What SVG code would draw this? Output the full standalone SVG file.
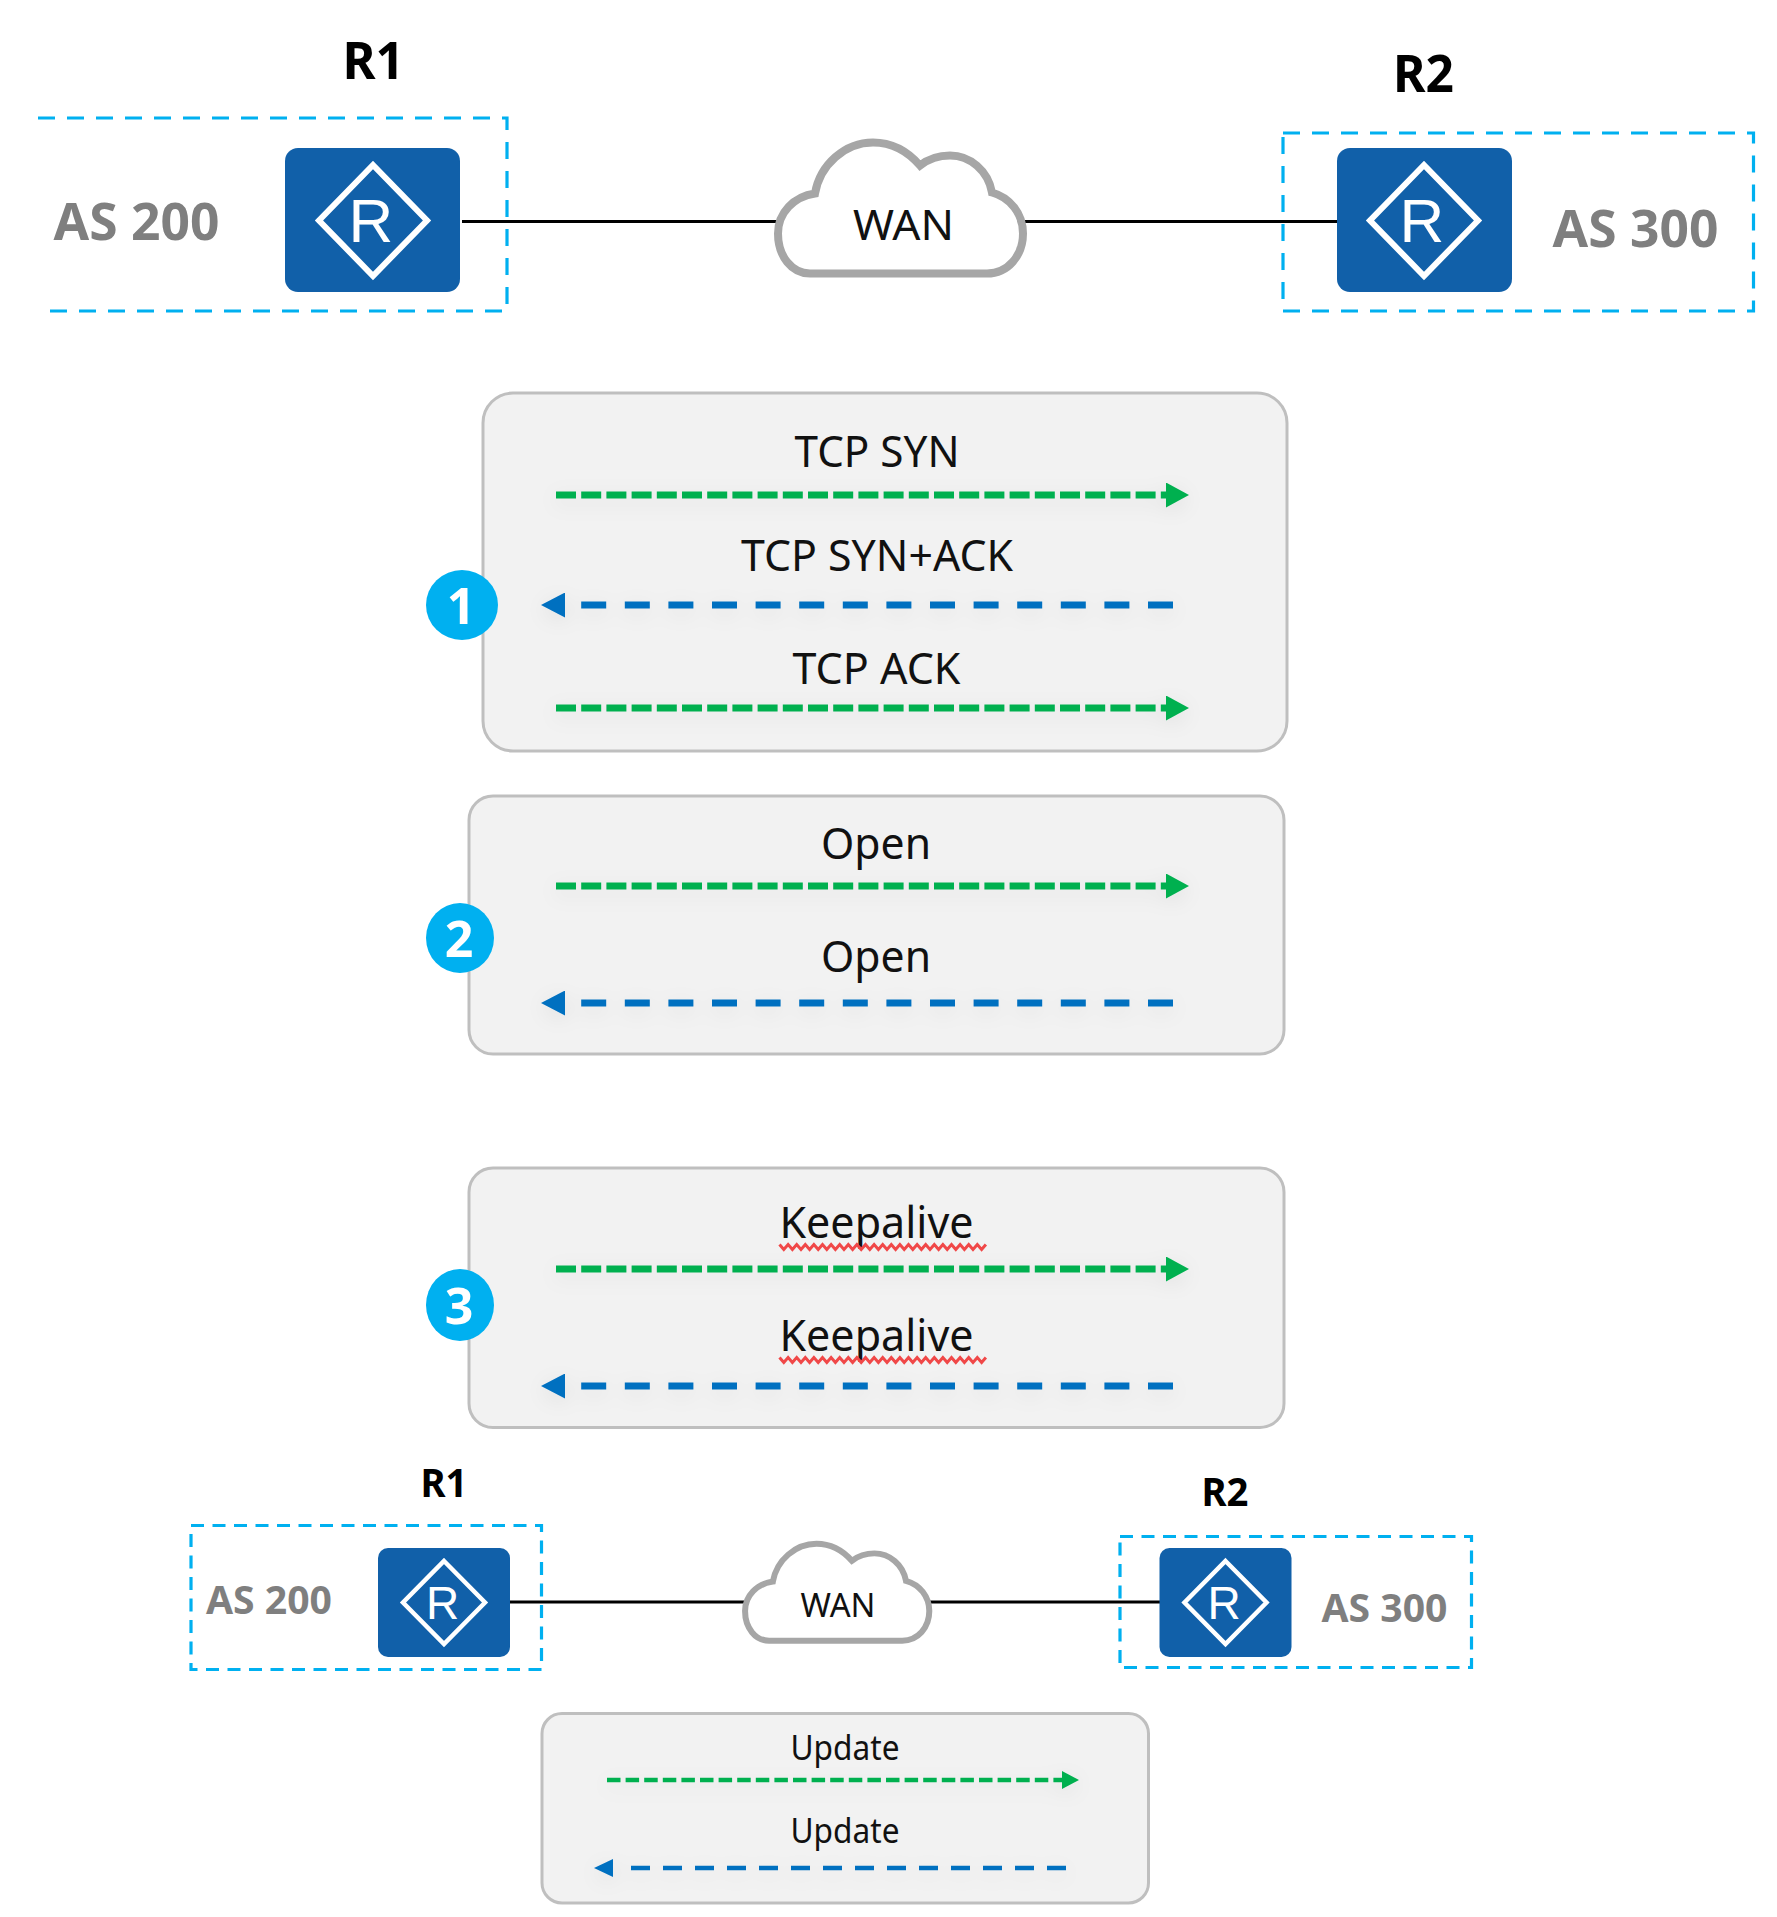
<svg xmlns="http://www.w3.org/2000/svg" width="1777" height="1917" viewBox="0 0 1777 1917">
<style>
text{font-family:"Noto Sans","Open Sans","Liberation Sans",sans-serif;text-anchor:middle;fill:#111}
.b{font-weight:700;fill:#000}
.as{font-weight:700;fill:#7f7f7f}
.num{font-weight:700;fill:#fff}
.panel{fill:#f2f2f2;stroke:#bfbfbf;stroke-width:3}
.zone{fill:none;stroke:#00b0f0;stroke-width:3.2;stroke-dasharray:17 12}
.link{stroke:#000;stroke-width:3;fill:none}
.gr{stroke:#00b050;stroke-width:7;stroke-dasharray:20 5.2;fill:none;marker-end:url(#gh)}
.bl{stroke:#0070c0;stroke-width:7;stroke-dasharray:25 18.6;fill:none;marker-end:url(#bh)}
.gr2{stroke:#00b050;stroke-width:4.5;stroke-dasharray:13.5 5.1;fill:none;marker-end:url(#gh2)}
.bl2{stroke:#0070c0;stroke-width:4.5;stroke-dasharray:19 13;fill:none;marker-end:url(#bh2)}
.wave{fill:none;stroke:#f04848;stroke-width:3}
.rbody{fill:#1160a9}
.rd{fill:none;stroke:#fff;stroke-width:6}
.cl{fill:#fff;stroke:#a6a6a6;stroke-width:8}
.rt{font-family:"Liberation Sans",Arial,sans-serif;fill:#fff}
.badge{fill:#00b0f0}
</style>
<defs>
<marker id="gh" markerUnits="userSpaceOnUse" markerWidth="23" markerHeight="25" refX="0" refY="12.5" orient="auto"><path d="M0 0L23 12.5L0 25Z" fill="#00b050"/></marker>
<marker id="bh" markerUnits="userSpaceOnUse" markerWidth="40" markerHeight="25" refX="0" refY="12.5" orient="auto"><path d="M16 0L40 12.5L16 25Z" fill="#0070c0"/></marker>
<marker id="gh2" markerUnits="userSpaceOnUse" markerWidth="17" markerHeight="18" refX="0" refY="9" orient="auto"><path d="M0 0L17 9L0 18Z" fill="#00b050"/></marker>
<marker id="bh2" markerUnits="userSpaceOnUse" markerWidth="32" markerHeight="18" refX="0" refY="9" orient="auto"><path d="M13 0L32 9L13 18Z" fill="#0070c0"/></marker>
<path id="cloud" class="cl" d="M60 153H237C258 153 273 135 273 113C273 93 260 77 242 72C238 50 220 35 200 35C190 35 179 38 170 45C157 30 142 22 123 22C95 22 70 44 65 73C44 76 28 92 28 113C28 136 42 153 60 153Z"/>
<path id="wave" class="wave" d="M0 0l4.300 5l4.300-5l4.300 5l4.300-5l4.300 5l4.300-5l4.300 5l4.300-5l4.300 5l4.300-5l4.300 5l4.300-5l4.300 5l4.300-5l4.300 5l4.300-5l4.300 5l4.300-5l4.300 5l4.300-5l4.300 5l4.300-5l4.300 5l4.300-5l4.300 5l4.300-5l4.300 5l4.300-5l4.300 5l4.300-5l4.300 5l4.300-5l4.300 5l4.300-5l4.300 5l4.300-5l4.300 5l4.300-5l4.300 5l4.300-5l4.300 5l4.300-5l4.300 5l4.300-5l4.300 5l4.300-5l4.300 5l4.300-5"/>
<filter id="soft" x="-10%" y="-200%" width="120%" height="500%"><feDropShadow dx="0" dy="5" stdDeviation="10" flood-color="#000" flood-opacity="0.08"/></filter>
</defs>

<g id="panels">
<g id="panel-1"><rect class="panel" x="483" y="393" width="804" height="358" rx="30"/></g>
<g id="panel-2"><rect class="panel" x="469" y="796" width="815" height="258" rx="24"/></g>
<g id="panel-3"><rect class="panel" x="469" y="1168" width="815" height="259.500" rx="24"/></g>
<g id="panel-4"><rect class="panel" x="542" y="1713.500" width="606.500" height="189.500" rx="20"/></g>
</g>

<g id="connectors">
<line class="link" x1="462" y1="221.500" x2="778" y2="221.500"/>
<line class="link" x1="1023" y1="221.500" x2="1337" y2="221.500"/>
<line class="link" x1="510" y1="1602" x2="745" y2="1602"/>
<line class="link" x1="930" y1="1602" x2="1163" y2="1602"/>
<g filter="url(#soft)">
<path class="gr" d="M556 495H1166"/>
<path class="bl" d="M1173 605H581"/>
<path class="gr" d="M556 708H1166"/>
<path class="gr" d="M556 886H1166"/>
<path class="bl" d="M1173 1003H581"/>
<path class="gr" d="M556 1269H1166"/>
<path class="bl" d="M1173 1386H581"/>
<path class="gr2" d="M607 1780H1062"/>
<path class="bl2" d="M1066 1868H626"/>
</g>
</g>

<g id="as200-zone"><path class="zone" d="M38 118H507V311H49"/><text class="as" x="136.500" y="240" font-size="52" textLength="166" lengthAdjust="spacingAndGlyphs">AS 200</text></g>
<g id="as300-zone"><path class="zone" d="M1283 133H1753.500V311H1283Z"/><text class="as" x="1635.500" y="247" font-size="52" textLength="166" lengthAdjust="spacingAndGlyphs">AS 300</text></g>
<g id="as200-zone-b"><rect class="zone" x="191" y="1525.500" width="350.500" height="144" style="stroke-dasharray:13 8.500"/><text class="as" x="269" y="1614" font-size="40" textLength="126" lengthAdjust="spacingAndGlyphs">AS 200</text></g>
<g id="as300-zone-b"><rect class="zone" x="1120" y="1536.500" width="351.500" height="131" style="stroke-dasharray:13 8.500"/><text class="as" x="1384.500" y="1622" font-size="40" textLength="126" lengthAdjust="spacingAndGlyphs">AS 300</text></g>

<g id="r1">
<text class="b" x="373.500" y="79" font-size="52" textLength="62" lengthAdjust="spacingAndGlyphs">R1</text>
<rect class="rbody" x="285" y="148" width="175" height="144" rx="13"/>
<path class="rd" d="M373 165L427 220.500L373 276L319 220.500Z"/>
<text class="rt" x="371" y="242" font-size="62">R</text>
</g>
<g id="r2">
<text class="b" x="1423.500" y="92" font-size="52" textLength="61" lengthAdjust="spacingAndGlyphs">R2</text>
<rect class="rbody" x="1337" y="148" width="175" height="144" rx="13"/>
<path class="rd" d="M1424 165L1478 220.500L1424 276L1370 220.500Z"/>
<text class="rt" x="1422" y="242" font-size="62">R</text>
</g>
<g id="wan"><use href="#cloud" transform="translate(750 120.500)"/><text x="903.500" y="240" font-size="42" textLength="101" lengthAdjust="spacingAndGlyphs">WAN</text></g>

<g id="step-1"><ellipse class="badge" cx="462" cy="605" rx="36" ry="35"/><text class="num" x="461" y="624" font-size="50">1</text></g>
<g id="step-2"><ellipse class="badge" cx="460" cy="938" rx="34" ry="35"/><text class="num" x="459" y="957" font-size="50">2</text></g>
<g id="step-3"><ellipse class="badge" cx="460" cy="1305" rx="34" ry="36"/><text class="num" x="459" y="1324" font-size="50">3</text></g>

<g id="labels">
<text x="877" y="467" font-size="43" textLength="165" lengthAdjust="spacingAndGlyphs">TCP SYN</text>
<text x="877" y="571" font-size="43" textLength="272" lengthAdjust="spacingAndGlyphs">TCP SYN+ACK</text>
<text x="876.500" y="684" font-size="43" textLength="168" lengthAdjust="spacingAndGlyphs">TCP ACK</text>
<text x="876" y="859" font-size="43" textLength="110" lengthAdjust="spacingAndGlyphs">Open</text>
<text x="876" y="972" font-size="43" textLength="110" lengthAdjust="spacingAndGlyphs">Open</text>
<text x="876.500" y="1238" font-size="43" textLength="194" lengthAdjust="spacingAndGlyphs">Keepalive</text>
<use href="#wave" transform="translate(779.500 1244.500)"/>
<text x="876.500" y="1351" font-size="43" textLength="194" lengthAdjust="spacingAndGlyphs">Keepalive</text>
<use href="#wave" transform="translate(779.500 1357.500)"/>
<text x="845" y="1760" font-size="34" textLength="109" lengthAdjust="spacingAndGlyphs">Update</text>
<text x="845" y="1843" font-size="34" textLength="109" lengthAdjust="spacingAndGlyphs">Update</text>
</g>

<g id="r1-b">
<text class="b" x="444" y="1497" font-size="39" textLength="47" lengthAdjust="spacingAndGlyphs">R1</text>
<rect class="rbody" x="378" y="1548" width="132" height="109" rx="10"/>
<path class="rd" style="stroke-width:4.500" d="M444 1561L485 1602.500L444 1644L403 1602.500Z"/>
<text class="rt" x="442.500" y="1619" font-size="46">R</text>
</g>
<g id="r2-b">
<text class="b" x="1225" y="1506" font-size="39" textLength="47" lengthAdjust="spacingAndGlyphs">R2</text>
<rect class="rbody" x="1159.500" y="1548" width="132" height="109" rx="10"/>
<path class="rd" style="stroke-width:4.500" d="M1225.500 1561L1266.500 1602.500L1225.500 1644L1184.500 1602.500Z"/>
<text class="rt" x="1224" y="1619" font-size="46">R</text>
</g>
<g id="wan-b"><use href="#cloud" transform="translate(724 1527.500) scale(.752 .74)"/><text x="838" y="1617" font-size="32" textLength="75" lengthAdjust="spacingAndGlyphs">WAN</text></g>
</svg>
